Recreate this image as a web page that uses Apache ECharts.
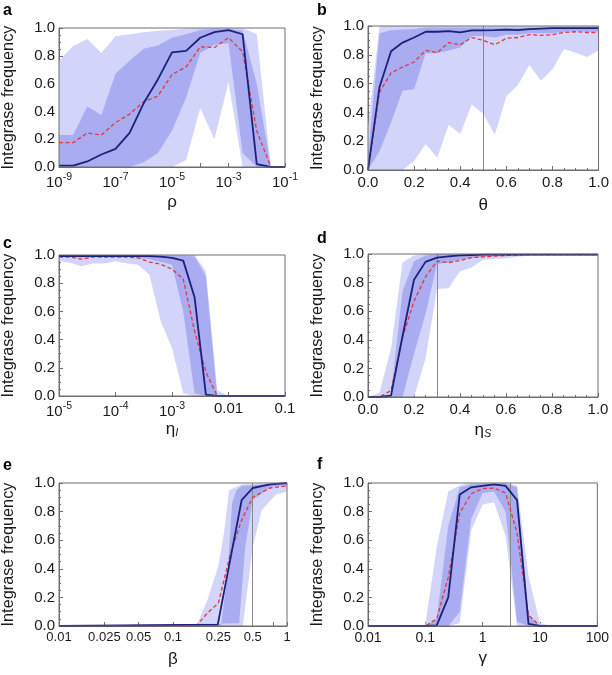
<!DOCTYPE html>
<html>
<head>
<meta charset="utf-8">
<script src="https://cdn.jsdelivr.net/npm/echarts@6/dist/echarts.min.js"></script>
<style>
  html, body { margin: 0; background: #fff; }
  #chart { width: 612px; height: 675px; }
</style>
</head>
<body>
<div id="chart"></div>
<script>
// ---- panel a: rho (log) ----
const aX = [1e-9, 3.16e-9, 1e-8, 3.16e-8, 1e-7, 3.16e-7, 1e-6, 3.16e-6, 1e-5, 3.16e-5, 1e-4, 3.16e-4, 1e-3, 3.16e-3, 1e-2, 3.16e-2, 1e-1];
const aSolid = [0.01, 0.01, 0.04, 0.09, 0.13, 0.245, 0.46, 0.63, 0.825, 0.835, 0.93, 0.97, 0.985, 0.955, 0.02, 0, 0];
const aDash = [0.175, 0.175, 0.245, 0.23, 0.32, 0.38, 0.47, 0.51, 0.665, 0.72, 0.865, 0.86, 0.93, 0.83, 0.26, 0, 0];
const aLightHi = [0.765, 0.87, 0.92, 0.82, 0.94, 0.955, 0.97, 0.98, 0.985, 0.995, 1, 1, 1, 1, 0.955, 0, 0];
const aLightLo = [0, 0, 0, 0, 0, 0, 0, 0, 0, 0.05, 0.425, 0.2, 0.61, 0, 0, 0, 0];
const aDarkHi = [0.23, 0.23, 0.435, 0.375, 0.67, 0.765, 0.85, 0.875, 0.93, 0.955, 0.985, 0.995, 0.995, 0.98, 0.6, 0, 0];
const aDarkLo = [0, 0, 0, 0, 0, 0, 0.035, 0.1, 0.26, 0.5, 0.82, 0.88, 0.89, 0.1, 0, 0, 0];
const aTicks = [1e-9, 1e-8, 1e-7, 1e-6, 1e-5, 1e-4, 1e-3, 1e-2, 1e-1];
const aLabels = [1e-9, 1e-7, 1e-5, 1e-3, 1e-1];

// ---- panel b: theta ----
const bX = [0, 0.05, 0.1, 0.15, 0.2, 0.25, 0.3, 0.35, 0.4, 0.45, 0.5, 0.55, 0.6, 0.65, 0.7, 0.75, 0.8, 0.85, 0.9, 0.95, 1];
const bSolid = [0, 0.577, 0.825, 0.885, 0.92, 0.96, 0.96, 0.965, 0.955, 0.97, 0.97, 0.972, 0.975, 0.972, 0.978, 0.982, 0.985, 0.985, 0.985, 0.985, 0.985];
const bDash = [0, 0.54, 0.675, 0.715, 0.75, 0.83, 0.815, 0.885, 0.87, 0.92, 0.90, 0.87, 0.915, 0.92, 0.94, 0.935, 0.94, 0.955, 0.96, 0.955, 0.955];
const bLightHi = [0.3, 1, 1, 1, 1, 1, 1, 1, 1, 1, 1, 1, 1, 1, 1, 1, 1, 1, 1, 1, 1];
const bLightLo = [0, 0, 0, 0, 0.065, 0.18, 0.085, 0.315, 0.25, 0.455, 0.39, 0.245, 0.51, 0.59, 0.73, 0.62, 0.70, 0.84, 0.815, 0.785, 0.83];
const bDarkHi = [0.1, 0.95, 0.97, 0.975, 0.98, 0.99, 0.99, 0.99, 0.99, 0.99, 0.99, 0.99, 0.99, 0.99, 0.99, 0.99, 0.99, 0.99, 0.99, 0.99, 0.99];
const bDarkLo = [0, 0.13, 0.33, 0.55, 0.56, 0.81, 0.81, 0.83, 0.85, 0.93, 0.93, 0.92, 0.94, 0.94, 0.95, 0.95, 0.95, 0.96, 0.965, 0.96, 0.96];

// ---- panel c: eta_I (log) ----
const cX = [1e-5, 1.58e-5, 2.51e-5, 3.98e-5, 6.31e-5, 1e-4, 1.58e-4, 2.51e-4, 3.98e-4, 6.31e-4, 1e-3, 1.58e-3, 2.51e-3, 3.98e-3, 6.31e-3, 1e-2, 1.58e-2, 2.51e-2, 3.98e-2, 6.31e-2, 0.1];
const cSolid = [0.993, 0.993, 0.993, 0.993, 0.993, 0.993, 0.993, 0.993, 0.993, 0.988, 0.98, 0.96, 0.70, 0.01, 0, 0, 0, 0, 0, 0, 0];
const cDash = [0.985, 0.985, 0.97, 0.985, 0.985, 0.985, 0.985, 0.98, 0.95, 0.935, 0.90, 0.83, 0.46, 0.17, 0, 0, 0, 0, 0, 0, 0];
const cLightHi = [1, 1, 1, 1, 1, 1, 1, 1, 1, 1, 1, 1, 1, 0.885, 0.04, 0, 0, 0, 0, 0, 0];
const cLightLo = [0.957, 0.945, 0.92, 0.94, 0.94, 0.955, 0.94, 0.93, 0.86, 0.53, 0.34, 0.02, 0, 0, 0, 0, 0, 0, 0, 0, 0];
const cDarkHi = [0.998, 0.998, 0.998, 0.998, 0.998, 0.998, 0.998, 0.998, 0.998, 0.998, 0.998, 0.998, 0.99, 0.85, 0, 0, 0, 0, 0, 0, 0];
const cDarkLo = [0.985, 0.985, 0.98, 0.985, 0.985, 0.99, 0.99, 0.98, 0.97, 0.95, 0.93, 0.6, 0.02, 0, 0, 0, 0, 0, 0, 0, 0];
const cTicks = [1e-5, 1e-4, 1e-3, 1e-2, 1e-1];

// ---- panel d: eta_S ----
const dX = [0, 0.05, 0.1, 0.15, 0.2, 0.25, 0.3, 0.35, 0.4, 0.45, 0.5, 0.55, 0.6, 0.65, 0.7, 0.75, 0.8, 0.85, 0.9, 0.95, 1];
const dSolid = [0, 0, 0.01, 0.425, 0.82, 0.945, 0.975, 0.983, 0.99, 0.993, 0.995, 0.995, 0.995, 0.995, 0.995, 0.995, 0.995, 0.995, 0.995, 0.995, 0.995];
const dDash = [0, 0, 0.045, 0.415, 0.67, 0.84, 0.95, 0.94, 0.955, 0.975, 0.98, 0.985, 0.99, 0.993, 0.995, 0.995, 0.995, 0.995, 0.995, 0.995, 0.995];
const dLightHi = [0, 0.03, 0.34, 0.94, 0.99, 1, 1, 1, 1, 1, 1, 1, 1, 1, 1, 1, 1, 1, 1, 1, 1];
const dLightLo = [0, 0, 0, 0, 0, 0.27, 0.755, 0.76, 0.88, 0.905, 0.96, 0.965, 0.97, 0.98, 0.99, 0.99, 0.99, 0.99, 0.99, 0.99, 0.99];
const dDarkHi = [0, 0, 0.02, 0.74, 0.95, 0.99, 1, 1, 1, 1, 1, 1, 1, 1, 1, 1, 1, 1, 1, 1, 1];
const dDarkLo = [0, 0, 0, 0, 0.3, 0.58, 0.93, 0.94, 0.96, 0.97, 0.98, 0.985, 0.99, 0.99, 0.995, 0.995, 0.995, 0.995, 0.995, 0.995, 0.995];

// ---- panel e: beta (log), each edge read at its own x ----
const eLightHiX = [0.01, 0.16, 0.2, 0.25, 0.28, 0.31, 0.4, 1];
const eLightHi = [0, 0, 0.18, 0.42, 0.65, 0.95, 0.99, 1];
const eLightLoX = [0.01, 0.41, 0.5, 0.6, 0.8, 1];
const eLightLo = [0, 0, 0.55, 0.81, 0.92, 0.94];
const eDarkHiX = [0.01, 0.263, 0.3, 0.33, 0.36, 0.4, 1];
const eDarkHi = [0, 0, 0.35, 0.86, 0.95, 0.98, 1];
const eDarkLoX = [0.01, 0.38, 0.43, 0.5, 0.71, 1];
const eDarkLo = [0, 0.02, 0.55, 0.88, 0.97, 0.985];
const eSolidX = [0.01, 0.247, 0.4, 0.5, 0.71, 1];
const eSolid = [0, 0.01, 0.88, 0.965, 0.99, 1];
const eDashX = [0.01, 0.16, 0.2, 0.25, 0.32, 0.4, 0.5, 0.71, 1];
const eDash = [0, 0, 0.09, 0.16, 0.51, 0.74, 0.90, 0.965, 0.98];
const eTicks = [0.01, 0.025, 0.05, 0.1, 0.25, 0.5, 0.75, 1];
const eLabels = [0.01, 0.025, 0.05, 0.1, 0.25, 0.5, 1];

// ---- panel f: gamma (log) ----
const fX = [0.01, 0.0158, 0.0251, 0.0398, 0.0631, 0.1, 0.158, 0.251, 0.398, 0.631, 1, 1.58, 2.51, 3.98, 6.31, 10, 15.8, 25.1, 39.8, 63.1, 100];
const fSolid = [0, 0, 0, 0, 0, 0, 0.005, 0.2, 0.92, 0.97, 0.98, 0.99, 0.98, 0.88, 0.015, 0, 0, 0, 0, 0, 0];
const fDash = [0, 0, 0, 0, 0, 0, 0.05, 0.34, 0.79, 0.925, 0.96, 0.965, 0.93, 0.65, 0.075, 0, 0, 0, 0, 0, 0];
const fLightHi = [0, 0, 0, 0, 0, 0.01, 0.55, 0.94, 0.985, 1, 1, 1, 1, 0.98, 0.35, 0.02, 0, 0, 0, 0, 0];
const fLightLo = [0, 0, 0, 0, 0, 0, 0, 0, 0.02, 0.67, 0.85, 0.865, 0.63, 0, 0, 0, 0, 0, 0, 0, 0];
const fDarkHi = [0, 0, 0, 0, 0, 0, 0.05, 0.7, 0.97, 0.99, 0.995, 0.995, 0.995, 0.97, 0.08, 0, 0, 0, 0, 0, 0];
const fDarkLo = [0, 0, 0, 0, 0, 0, 0, 0, 0.1, 0.75, 0.93, 0.94, 0.8, 0.03, 0, 0, 0, 0, 0, 0, 0];
const fTicks = [0.01, 0.1, 1, 10, 100];

const LIGHT = '#d3d4fa';
const DARK = '#a9acf1';
const NAVY = '#1b2178';
const RED = '#e2373c';
const FRAME = '#6e6e6e';
const TXT = '#1a1a1a';
const FONT = 'Liberation Sans, Arial, sans-serif';

function makeRich(size) {
  return {
    b: { fontSize: size, color: TXT, fontFamily: FONT, verticalAlign: 'bottom' },
    s: { fontSize: size * 0.7, color: TXT, fontFamily: FONT, verticalAlign: 'top', padding: [0, 0, 7, 0] }
  };
}
function powLabel(v) {
  const e = Math.round(Math.log10(v));
  return '{b|10}{s|' + e + '}';
}
function cLabel(v) {
  return v >= 0.01 ? '{b|' + String(v) + '}' : powLabel(v);
}
function plainLabel(v) {
  return '{b|' + String(v) + '}';
}
function fixedLabel(v) {
  return v.toFixed(1);
}

const panels = [
  { letter: 'a', lx: 3, ly: 3, grid: { left: 55, top: 28, width: 230, height: 139 }, type: 'log', min: 1e-9, max: 0.1,
    ticks: aTicks, labels: aLabels, fmt: powLabel, labelSize: 15, name: 'ρ', nameGap: 27, vline: 1e-3,
    light: [aX, aLightHi, aX, aLightLo], dark: [aX, aDarkHi, aX, aDarkLo],
    solidX: aX, solid: aSolid, dashX: aX, dash: aDash },
  { letter: 'b', lx: 317, ly: 3, grid: { left: 368, top: 26, width: 234, height: 144 }, type: 'value', min: 0, max: 1,
    fmt: fixedLabel, labelSize: 15, name: 'θ', nameGap: 27, vline: 0.5,
    light: [bX, bLightHi, bX, bLightLo], dark: [bX, bDarkHi, bX, bDarkLo],
    solidX: bX, solid: bSolid, dashX: bX, dash: bDash },
  { letter: 'c', lx: 3, ly: 236, grid: { left: 55, top: 255, width: 230, height: 141 }, type: 'log', min: 1e-5, max: 0.1,
    ticks: cTicks, labels: cTicks, fmt: cLabel, labelSize: 15, name: '{e|η}{u|I}', nameGap: 25, vline: 1e-3,
    light: [cX, cLightHi, cX, cLightLo], dark: [cX, cDarkHi, cX, cDarkLo],
    solidX: cX, solid: cSolid, dashX: cX, dash: cDash },
  { letter: 'd', lx: 317, ly: 231, grid: { left: 368, top: 254, width: 230, height: 143 }, type: 'value', min: 0, max: 1,
    fmt: fixedLabel, labelSize: 15, name: '{e|η}{u|S}', nameGap: 25, vline: 0.3,
    light: [dX, dLightHi, dX, dLightLo], dark: [dX, dDarkHi, dX, dDarkLo],
    solidX: dX, solid: dSolid, dashX: dX, dash: dDash },
  { letter: 'e', lx: 3, ly: 458, grid: { left: 55, top: 483, width: 232, height: 143 }, type: 'log', min: 0.01, max: 1,
    ticks: eTicks, labels: eLabels, fmt: plainLabel, labelSize: 13, name: 'β', nameGap: 25, vline: 0.5,
    light: [eLightHiX, eLightHi, eLightLoX, eLightLo], dark: [eDarkHiX, eDarkHi, eDarkLoX, eDarkLo],
    solidX: eSolidX, solid: eSolid, dashX: eDashX, dash: eDash },
  { letter: 'f', lx: 317, ly: 457, grid: { left: 368, top: 483, width: 231, height: 143 }, type: 'log', min: 0.01, max: 100,
    ticks: fTicks, labels: fTicks, fmt: plainLabel, labelSize: 14, name: 'γ', nameGap: 24, vline: 3,
    light: [fX, fLightHi, fX, fLightLo], dark: [fX, fDarkHi, fX, fDarkLo],
    solidX: fX, solid: fSolid, dashX: fX, dash: fDash }
];

const grids = [], xAxes = [], yAxes = [], series = [], titles = [];

function pairs(xs, ys) {
  return xs.map((x, j) => [x, ys[j]]);
}

// shaded band: upper edge left to right, lower edge back, one polygon through the axis scales
function band(i, edges, color) {
  const [hiX, hi, loX, lo] = edges;
  return {
    type: 'custom', xAxisIndex: i, yAxisIndex: i, silent: true, clip: true, z: 1,
    data: pairs(hiX, hi).concat(pairs(loX, lo)),
    encode: { x: 0, y: 1 },
    renderItem: function (params, api) {
      if (params.dataIndex !== 0) return null;
      const pts = [];
      for (let j = 0; j < hiX.length; j++) pts.push(api.coord([hiX[j], hi[j]]));
      for (let j = loX.length - 1; j >= 0; j--) pts.push(api.coord([loX[j], lo[j]]));
      return { type: 'polygon', shape: { points: pts }, style: { fill: color, stroke: null } };
    }
  };
}

panels.forEach((p, i) => {
  grids.push(Object.assign({ show: true, borderColor: FRAME, borderWidth: 1, backgroundColor: 'rgba(0,0,0,0)', z: 10 }, p.grid));

  const x = {
    gridIndex: i, type: p.type, min: p.min, max: p.max,
    axisLine: { show: true, lineStyle: { color: FRAME } },
    axisTick: { show: true, inside: true, length: 4, lineStyle: { color: FRAME } },
    splitLine: { show: false },
    axisLabel: { fontSize: p.labelSize, color: TXT, fontFamily: FONT, margin: 5, formatter: p.fmt, rich: makeRich(p.labelSize) },
    name: p.name, nameLocation: 'middle', nameGap: p.nameGap,
    nameTextStyle: { fontSize: 17, color: TXT, fontFamily: FONT,
      rich: { e: { fontSize: 17, color: TXT, fontFamily: FONT },
              u: { fontSize: 11, color: TXT, fontFamily: FONT, fontStyle: 'italic', verticalAlign: 'bottom', padding: [5, 0, 0, 0] } } }
  };
  if (p.type === 'log') {
    x.logBase = 10;
    x.axisTick.customValues = p.ticks;
    x.axisLabel.customValues = p.labels;
  } else {
    x.interval = 0.2;
    x.minorTick = { show: true, splitNumber: 4, length: 2, lineStyle: { color: FRAME } };
  }
  xAxes.push(x);

  yAxes.push({
    gridIndex: i, type: 'value', min: 0, max: 1, interval: 0.2,
    axisLine: { show: true, lineStyle: { color: FRAME } },
    axisTick: { show: true, inside: true, length: 4, lineStyle: { color: FRAME } },
    minorTick: { show: true, splitNumber: 4, length: 2, lineStyle: { color: FRAME } },
    splitLine: { show: false },
    axisLabel: { fontSize: 15, color: TXT, fontFamily: FONT, margin: 4, formatter: fixedLabel },
    name: 'Integrase frequency', nameLocation: 'middle', nameGap: 42,
    nameTextStyle: { fontSize: 16.3, color: TXT, fontFamily: FONT }
  });

  series.push(band(i, p.light, LIGHT));
  series.push(band(i, p.dark, DARK));
  series.push({
    type: 'line', xAxisIndex: i, yAxisIndex: i, data: pairs(p.dashX, p.dash), symbol: 'none', silent: true,
    lineStyle: { color: RED, width: 1.3, type: [4, 2.5] }, z: 3
  });
  series.push({
    type: 'line', xAxisIndex: i, yAxisIndex: i, data: pairs(p.solidX, p.solid), symbol: 'none', silent: true,
    lineStyle: { color: NAVY, width: 1.8 }, z: 4,
    markLine: { silent: true, symbol: 'none', label: { show: false }, z: 2,
      lineStyle: { color: '#8a8a8a', width: 1, type: 'solid' }, data: [{ xAxis: p.vline }] }
  });

  titles.push({ text: p.letter, left: p.lx, top: p.ly, padding: 0,
    textStyle: { fontSize: 16, fontWeight: 'bold', color: '#000', fontFamily: FONT } });
});

const chart = echarts.init(document.getElementById('chart'), null, { renderer: 'canvas' });
chart.setOption({
  animation: false,
  title: titles,
  grid: grids,
  xAxis: xAxes,
  yAxis: yAxes,
  series: series
});
</script>
</body>
</html>
